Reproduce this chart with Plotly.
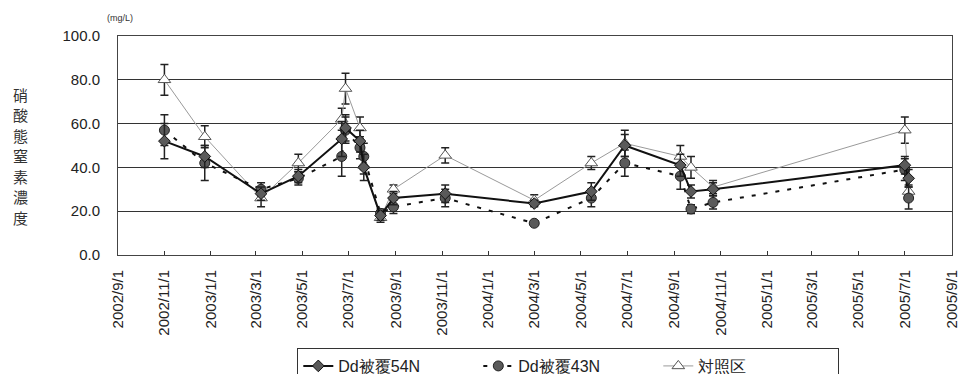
import plotly.graph_objects as go

dates = ["2002-11-01", "2002-12-24", "2003-03-08", "2003-04-26", "2003-06-22", "2003-06-27",
         "2003-07-16", "2003-07-21", "2003-08-12", "2003-08-29", "2003-11-05", "2004-03-01",
         "2004-05-15", "2004-06-28", "2004-09-09", "2004-09-23", "2004-10-22", "2005-07-01",
         "2005-07-06"]

dd54 = [52, 45, 28, 36, 53, 58, 52, 40, 18, 26, 28, 23.5, 29, 50, 41, 29, 30, 41, 35]
dd54_err = [8, 5, 3, 3, 8, 6, 5, 6, 2, 3, 4, 1.5, 4, 5, 5, 3, 3, 4, 4]

dd43 = [57, 42, 30, 35, 45, 57, 49, 45, 19, 22, 26, 14.5, 26, 42, 36, 21, 24, 39, 26]
dd43_err = [7, 8, 3, 3, 9, 6, 5, 6, 2, 3, 4, 1, 4, 6, 6, 2, 3, 5, 5]

ctrl = [80, 54, 26, 42, 62, 76, 58, 41, 17, 30, 45.5, 25, 42, 51, 45, 40, 31, 57, 29]
ctrl_err = [7, 5, 4, 4, 5, 7, 5, 4, 2, 2, 3.5, 2.5, 3, 6, 5, 5, 3, 6, 3]

names = ["Dd被覆54N", "Dd被覆43N", "対照区"]
y_ticks = [0, 20, 40, 60, 80, 100]
y_title = "硝酸態窒素濃度"
unit_label = "(mg/L)"

font = "Liberation Sans, Arial, sans-serif"

fig = go.Figure()

fig.add_trace(go.Scatter(
    x=dates, y=ctrl, name=names[2], mode="lines+markers",
    line=dict(color="#9a9a9a", width=1),
    marker=dict(symbol="triangle-up", size=11, color="white",
                line=dict(color="#555555", width=1)),
    error_y=dict(type="data", array=ctrl_err, color="#222222", thickness=1.5, width=4),
))
fig.add_trace(go.Scatter(
    x=dates, y=dd43, name=names[1], mode="lines+markers",
    line=dict(color="#111111", width=2, dash="4px,8px"),
    marker=dict(symbol="circle", size=10, color="#5a5a5a",
                line=dict(color="#222222", width=1)),
    error_y=dict(type="data", array=dd43_err, color="#222222", thickness=1.5, width=4),
))
fig.add_trace(go.Scatter(
    x=dates, y=dd54, name=names[0], mode="lines+markers",
    line=dict(color="#111111", width=2),
    marker=dict(symbol="diamond", size=9, color="#5a5a5a",
                line=dict(color="#111111", width=1)),
    error_y=dict(type="data", array=dd54_err, color="#222222", thickness=1.5, width=4),
))

# vertical axis title, one character per line (pixel centres converted to paper coords)
plot_top, plot_bottom, plot_left, plot_w = 36, 255, 118, 834
title_annots = []
for i, ch in enumerate(y_title):
    ypix = 94 + i * 20.5
    title_annots.append(dict(
        text=ch, xref="paper", yref="paper",
        x=(20.5 - plot_left) / plot_w, y=(plot_bottom - ypix) / (plot_bottom - plot_top),
        xanchor="center", yanchor="middle", showarrow=False,
        font=dict(family="Noto Sans CJK JP", size=15, color="#333333")))

fig.update_layout(
    width=961, height=374,
    margin=dict(l=118, r=9, t=36, b=119, autoexpand=False),
    paper_bgcolor="white", plot_bgcolor="white",
    font=dict(family=font, size=13, color="#222222"),
    showlegend=True,
    legend=dict(orientation="h", x=0.215, y=-0.4247, xanchor="left", yanchor="top",
                bordercolor="#333333", borderwidth=1, bgcolor="white",
                font=dict(size=16), traceorder="reversed",
                entrywidth=135, entrywidthmode="pixels"),
    xaxis=dict(
        type="date", range=["2002-09-01", "2005-09-01"],
        tick0="2002-09-01", dtick="M2", tickformat="%Y/%-m/%-d",
        tickangle=-90, ticks="inside", ticklen=4, tickcolor="#333333",
        ticklabelstandoff=8, ticklabeloverflow="allow",
        showgrid=False, showline=True, linecolor="#444444", linewidth=1, mirror=True,
        tickfont=dict(size=15, color="#222222"), zeroline=False, automargin=False,
    ),
    yaxis=dict(
        range=[0, 100], tickvals=y_ticks, tickformat=".1f",
        showgrid=True, gridcolor="#333333", gridwidth=1,
        showline=True, linecolor="#444444", linewidth=1, mirror=True,
        ticks="", ticklabelstandoff=14,
        tickfont=dict(size=15, color="#222222"), zeroline=False, automargin=False,
    ),
    annotations=title_annots + [
        dict(text=unit_label, xref="paper", yref="paper", x=0.002, y=1.082,
             xanchor="center", yanchor="middle", showarrow=False,
             font=dict(size=9, color="#333333")),
    ],
)

fig.write_html("out.html", config={"displayModeBar": False},
               post_script="document.body.style.margin='0px';document.body.style.overflow='hidden';")
